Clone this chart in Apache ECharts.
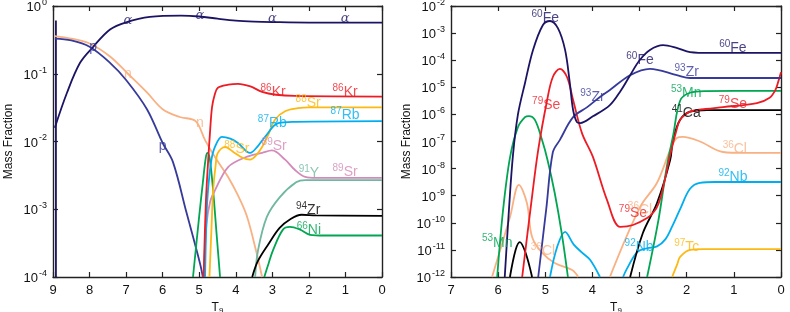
<!DOCTYPE html>
<html><head><meta charset="utf-8">
<script src="https://cdn.jsdelivr.net/npm/echarts@6/dist/echarts.min.js"></script>
<style>html,body{margin:0;padding:0;background:#fff}#c{width:790px;height:312px}</style>
</head><body><div id="c"></div><script>
// ---------- LEFT PANEL DATA: [T9, mass fraction] ----------
const tLeftTicks = [9,8,7,6,5,4,3,2,1,0];
const alphaL = [[8.95,0.016],[8.62,0.052],[8.26,0.145],[7.9,0.25],[7.44,0.45],[7.0,0.575],[6.35,0.69],[5.5,0.72],[5.0,0.70],[4.5,0.65],[4.0,0.61],[3.5,0.59],[3.0,0.58],[2.0,0.57],[0,0.57]];
const alphaBar = [[8.92,1e-4],[8.92,0.61]];
const protonL = [[8.95,0.33],[8.5,0.31],[8.0,0.25],[7.44,0.145],[7.0,0.081],[6.43,0.03],[6.0,0.0095],[5.72,0.005],[5.35,9e-4],[4.98,1.6e-4],[4.9,1e-4]];
const neutronL = [[8.95,0.36],[8.5,0.33],[8.0,0.28],[7.44,0.18],[6.95,0.10],[6.43,0.053],[6.0,0.03],[5.53,0.023],[5.1,0.02],[4.84,0.0105],[4.57,0.0059],[4.21,0.003],[3.94,0.0016],[3.7,8e-4],[3.45,2.5e-4],[3.28,1e-4]];
const kr86 = [[4.88,1e-4],[4.82,0.0012],[4.76,0.0048],[4.70,0.015],[4.65,0.032],[4.58,0.048],[4.49,0.062],[4.2,0.069],[3.94,0.071],[3.6,0.065],[3.28,0.054],[2.9,0.049],[2.38,0.047],[0,0.046]];
const sr88 = [[4.72,1e-4],[4.66,6e-4],[4.62,0.0019],[4.55,0.0045],[4.49,0.0068],[4.29,0.0083],[4.05,0.0069],[3.83,0.0058],[3.61,0.0054],[3.45,0.0062],[3.28,0.0083],[3.1,0.013],[2.93,0.021],[2.65,0.028],[2.3,0.031],[2.0,0.032],[0,0.032]];
const rb87 = [[4.84,1e-4],[4.8,8e-4],[4.76,0.0019],[4.67,0.0052],[4.57,0.0083],[4.38,0.0117],[4.15,0.011],[3.94,0.0095],[3.61,0.0068],[3.4,0.0085],[3.2,0.0117],[2.84,0.0186],[2.38,0.0195],[0,0.02]];
const sr89 = [[4.88,1e-4],[4.8,6e-4],[4.7,0.0013],[4.57,0.0019],[4.21,0.0042],[3.75,0.0058],[3.28,0.0068],[3.01,0.0074],[2.65,0.0054],[2.38,0.0038],[2.1,0.003],[1.8,0.0029],[0,0.0029]];
const y91 = [[3.47,1e-4],[3.39,2.5e-4],[3.15,7.7e-4],[2.8,0.0015],[2.35,0.0025],[2.1,0.0027],[0,0.0027]];
const zr94 = [[3.55,1e-4],[3.4,1.7e-4],[3.1,3.1e-4],[2.8,5.3e-4],[2.5,7.2e-4],[2.2,8.3e-4],[1.8,8.1e-4],[0,8e-4]];
const ni66 = [[3.22,1e-4],[3.1,1.6e-4],[2.98,2.5e-4],[2.71,5e-4],[2.52,5.5e-4],[2.24,5e-4],[1.97,4.2e-4],[1.6,4.1e-4],[0,4.1e-4]];
const greenSpike = [[5.17,1e-4],[5.0,8e-4],[4.9,0.0025],[4.82,0.0058],[4.77,0.0068],[4.71,0.0055],[4.62,0.0019],[4.52,4e-4],[4.43,1e-4]];

// ---------- RIGHT PANEL DATA ----------
const tRightTicks = [7,6,5,4,3,2,1,0];
const fe60 = [[5.86,1e-12],[5.77,3.2e-10],[5.685,3.2e-8],[5.58,1e-6],[5.43,1.45e-5],[5.26,2.4e-4],[5.05,2.0e-3],[4.9,2.8e-3],[4.73,1.5e-3],[4.58,2.4e-4],[4.48,1.45e-5],[4.41,1.45e-6],[4.33,5.2e-7],[4.26,4.8e-7],[3.99,8.5e-7],[3.63,2.2e-6],[3.4,7.5e-6],[3.2,2.8e-5],[3.0,1.0e-4],[2.78,2.4e-4],[2.5,3.6e-4],[2.2,2.8e-4],[1.93,2.0e-4],[1.5,1.86e-4],[0,1.86e-4]];
const zr93 = [[5.15,1e-12],[4.98,3.2e-10],[4.84,4e-8],[4.69,1.15e-7],[4.41,7.9e-7],[4.11,1.86e-6],[3.84,4.4e-6],[3.63,8e-6],[3.2,2.8e-5],[2.78,4.8e-5],[2.21,2.8e-5],[1.93,2.2e-5],[0,2.2e-5]];
const se79 = [[5.49,1e-12],[5.3,5e-10],[5.15,4.9e-8],[4.96,3.4e-6],[4.84,2.4e-5],[4.69,4.8e-5],[4.54,2.4e-5],[4.41,3.4e-6],[4.22,2.0e-7],[3.99,2.7e-8],[3.69,6.9e-10],[3.41,7.1e-11],[3.14,8.3e-11],[2.84,1.5e-10],[2.7,2.5e-10],[2.6,5e-10],[2.5,2.0e-9],[2.35,3.2e-8],[2.22,2.5e-7],[2.14,6.3e-7],[1.93,1.26e-6],[1.6,1.58e-6],[1.23,1.86e-6],[0.51,2.6e-6],[0.25,4e-6],[0.12,7.9e-6],[0.05,1.8e-5],[0,3.6e-5]];
const mn53a = [[6.02,1e-12],[5.9,2.5e-10],[5.75,2.5e-8],[5.58,3.4e-7],[5.43,7.9e-7],[5.35,8.7e-7],[5.22,6.3e-7],[5.07,1.15e-7],[4.95,2e-8],[4.8,1.26e-9],[4.65,4e-11],[4.52,1e-12]];
const mn53b = [[2.84,1e-12],[2.6,1.26e-10],[2.42,1.26e-8],[2.29,1.6e-7],[2.14,3.2e-6],[1.93,6.3e-6],[1.6,7.2e-6],[0,7.4e-6]];
const ca41a = [[5.75,1e-12],[5.63,1e-11],[5.54,1.95e-11],[5.42,8e-12],[5.28,1e-12]];
const ca41b = [[3.2,1e-12],[2.93,4.2e-11],[2.63,5.4e-10],[2.35,2.1e-8],[2.29,1.15e-7],[2.14,6.3e-7],[1.93,1.26e-6],[1.57,1.45e-6],[0,1.45e-6]];
const cl36a = [[6.13,1e-12],[5.75,1.6e-10],[5.56,2.5e-9],[5.39,5.4e-10],[5.28,3e-11],[5.07,7.9e-12],[4.79,3.2e-12],[4.43,1.8e-12],[4.3,1e-12]];
const cl36b = [[3.63,1e-12],[2.99,3.8e-10],[2.63,3.0e-9],[2.35,4.9e-8],[2.21,1.35e-7],[2.08,1.48e-7],[1.72,1.0e-7],[1.23,4.1e-8],[0.8,3.8e-8],[0,3.8e-8]];
const nb92a = [[4.9,1e-12],[4.75,1.26e-11],[4.58,4.6e-11],[4.4,1.6e-11],[4.22,7.9e-12],[4.05,4.3e-12],[3.84,1e-12]];
const nb92b = [[3.35,1e-12],[3.27,2e-12],[3.05,8.3e-12],[2.84,1.15e-11],[2.63,1.35e-11],[2.45,2.5e-11],[2.3,7.9e-11],[2.14,3.2e-10],[1.93,1.8e-9],[1.72,3.0e-9],[1.4,3.2e-9],[0,3.2e-9]];
const tc97 = [[2.31,1e-12],[2.2,3e-12],[2.14,5.5e-12],[1.93,1e-11],[1.65,1.07e-11],[0,1.07e-11]];

// ---------- LABELS: [T9, mass fraction, text] ----------
const labAlpha = [[6.95,0.6,'α'],[4.98,0.71,'α'],[3.0,0.66,'α'],[1.01,0.66,'α']];
const labP = [[7.9,0.257,'p'],[6.0,0.0089,'p']];
const labN = [[6.95,0.102,'n'],[4.98,0.0195,'n']];
const labKr86 = [[2.98,0.056,'86Kr'],[1.01,0.056,'86Kr']];
const labSr88 = [[2.02,0.038,'88Sr'],[3.97,0.0079,'88Sr']];
const labRb87 = [[3.0,0.0195,'87Rb'],[1.01,0.025,'87Rb']];
const labSr89 = [[2.95,0.0089,'89Sr'],[1.01,0.0036,'89Sr']];
const labY91 = [[2.0,0.0035,'91Y']];
const labZr94 = [[2.02,0.001,'94Zr']];
const labNi66 = [[2.0,5.1e-4,'66Ni']];
const labFe60 = [[5.0,3.9e-3,'60Fe'],[2.99,1.1e-4,'60Fe'],[1.02,3.1e-4,'60Fe']];
const labZr93 = [[4.0,4.8e-6,'93Zr'],[2.0,4e-5,'93Zr']];
const labSe79 = [[4.98,2.4e-6,'79Se'],[1.02,2.6e-6,'79Se'],[3.14,2.5e-10,'79Se']];
const labMn53 = [[2.01,6.8e-6,'53Mn'],[6.02,2e-11,'53Mn']];
const labCa41 = [[2.01,1.23e-6,'41Ca']];
const labCl36 = [[0.98,5.8e-8,'36Cl'],[5.05,1e-11,'36Cl'],[2.99,3.2e-10,'36Cl']];
const labNb92 = [[1.02,5.4e-9,'92Nb'],[3.01,1.38e-11,'92Nb']];
const labTc97 = [[2.0,1.38e-11,'97Tc']];

const FONT = '"Liberation Sans", Arial, Helvetica, sans-serif';
const C = {navy:'#1b1464', blue:'#363a9a', orange:'#f9b183', red:'#ed1c24', yellow:'#fdb913', cyan:'#00aeef', pink:'#d48ab8', teal:'#6fb7a0', black:'#000000', green:'#00a651'};
const AX = '#222';

function supLabel(v){
  const e = Math.round(Math.log10(v));
  return '{b|10}{s|' + (e === 0 ? '0' : '-' + (-e)) + '}';
}
const tickRich = {b:{fontSize:13, fontFamily:FONT, color:'#111', lineHeight:16, verticalAlign:'bottom'}, s:{fontSize:9, fontFamily:FONT, color:'#111', lineHeight:16, verticalAlign:'top', padding:[0,0,0,1]}};

function xAx(grid, max, pos, show){
  return {type:'value', gridIndex:grid, min:0, max:max, interval:1, inverse:true, position:pos,
    axisLine:{show:true, onZero:false, lineStyle:{color:AX, width:1.4}},
    axisTick:{show:true, inside:true, length:5, lineStyle:{color:AX, width:1.2}},
    axisLabel:{show:show, color:'#111', fontSize:13, fontFamily:FONT, margin:7},
    splitLine:{show:false},
    name: show ? '{t|T}{u|9}' : '', nameLocation:'middle', nameGap:16,
    nameTextStyle:{rich:{t:{fontSize:12, fontFamily:FONT, color:'#111', verticalAlign:'middle', lineHeight:14}, u:{fontSize:8, fontFamily:FONT, color:'#111', verticalAlign:'bottom', lineHeight:14}}}};
}
function yAx(grid, min, max, pos, show){
  return {type:'log', logBase:10, gridIndex:grid, min:min, max:max, interval:1, position:pos,
    axisLine:{show:true, onZero:false, lineStyle:{color:AX, width:1.4}},
    axisTick:{show:true, inside:true, length:5, lineStyle:{color:AX, width:1.2}},
    minorTick:{show:false},
    axisLabel:{show:show, formatter:supLabel, rich:tickRich, margin:6},
    splitLine:{show:false},
    name: show ? 'Mass Fraction' : '', nameLocation:'middle', nameRotate:90, nameGap:38,
    nameTextStyle:{fontSize:12, fontFamily:FONT, color:'#111'}};
}

function line(data, color, panel, w){
  const i = panel * 2;
  return {type:'line', xAxisIndex:i, yAxisIndex:i, data:data, smooth:0.35,
    symbol:'none', showSymbol:false, clip:true, silent:true, animation:false,
    lineStyle:{color:color, width:w || 1.8}};
}
function labelFmt(p){
  const t = p.data.name;
  if (t === 'α') return '{g|α}';
  const m = t.match(/^(\d+)(.*)$/);
  if (m) return '{s|' + m[1] + '}{e|' + m[2] + '}';
  return '{e|' + t + '}';
}
function labels(arr, color, panel){
  const i = panel * 2;
  return {type:'scatter', xAxisIndex:i, yAxisIndex:i, symbolSize:1, silent:true, animation:false, z:5,
    itemStyle:{color:'rgba(0,0,0,0)'},
    data: arr.map(d => ({value:[d[0], d[1]], name:d[2]})),
    label:{show:true, position:'inside', formatter:labelFmt,
      rich:{e:{fontSize:14, fontFamily:FONT, color:color, lineHeight:16, verticalAlign:'bottom'},
            s:{fontSize:10, fontFamily:FONT, color:color, lineHeight:16, verticalAlign:'top'},
            g:{fontSize:13, fontFamily:'"DejaVu Serif", serif', fontStyle:'italic', color:color}}}};
}

const chart = echarts.init(document.getElementById('c'), null, {renderer:'canvas'});
chart.setOption({
  animation:false,
  backgroundColor:'#fff',
  grid:[{left:53, top:6, width:329, height:271, outerBoundsMode:'none', containLabel:false},
        {left:451, top:6, width:330, height:271, outerBoundsMode:'none', containLabel:false}],
  xAxis:[xAx(0,9,'bottom',true), xAx(0,9,'top',false), xAx(1,7,'bottom',true), xAx(1,7,'top',false)],
  yAxis:[yAx(0,1e-4,1,'left',true), yAx(0,1e-4,1,'right',false), yAx(1,1e-12,1e-2,'left',true), yAx(1,1e-12,1e-2,'right',false)],
  series:[
    line(alphaBar, C.navy, 0), 
    line(neutronL, C.orange, 0), line(protonL, C.blue, 0), line(alphaL, C.navy, 0),
    line(greenSpike, C.green, 0), line(sr89, C.pink, 0), line(y91, C.teal, 0),
    line(sr88, C.yellow, 0), line(rb87, C.cyan, 0), line(kr86, C.red, 0),
    line(zr94, C.black, 0), line(ni66, C.green, 0),
    line(cl36a, C.orange, 1), line(cl36b, C.orange, 1), line(nb92a, C.cyan, 1), line(nb92b, C.cyan, 1),
    line(tc97, C.yellow, 1), line(ca41a, C.black, 1), line(ca41b, C.black, 1),
    line(mn53a, C.green, 1), line(mn53b, C.green, 1), line(se79, C.red, 1),
    line(zr93, C.blue, 1), line(fe60, C.navy, 1),
    labels(labAlpha, C.navy, 0), labels(labP, C.blue, 0), labels(labN, C.orange, 0),
    labels(labKr86, C.red, 0), labels(labSr88, C.yellow, 0), labels(labRb87, C.cyan, 0),
    labels(labSr89, C.pink, 0), labels(labY91, C.teal, 0), labels(labZr94, C.black, 0), labels(labNi66, C.green, 0),
    labels(labFe60, C.navy, 1), labels(labZr93, C.blue, 1), labels(labSe79, C.red, 1), labels(labMn53, C.green, 1),
    labels(labCa41, C.black, 1), labels(labCl36, C.orange, 1), labels(labNb92, C.cyan, 1), labels(labTc97, C.yellow, 1)
  ]
});
</script></body></html>
